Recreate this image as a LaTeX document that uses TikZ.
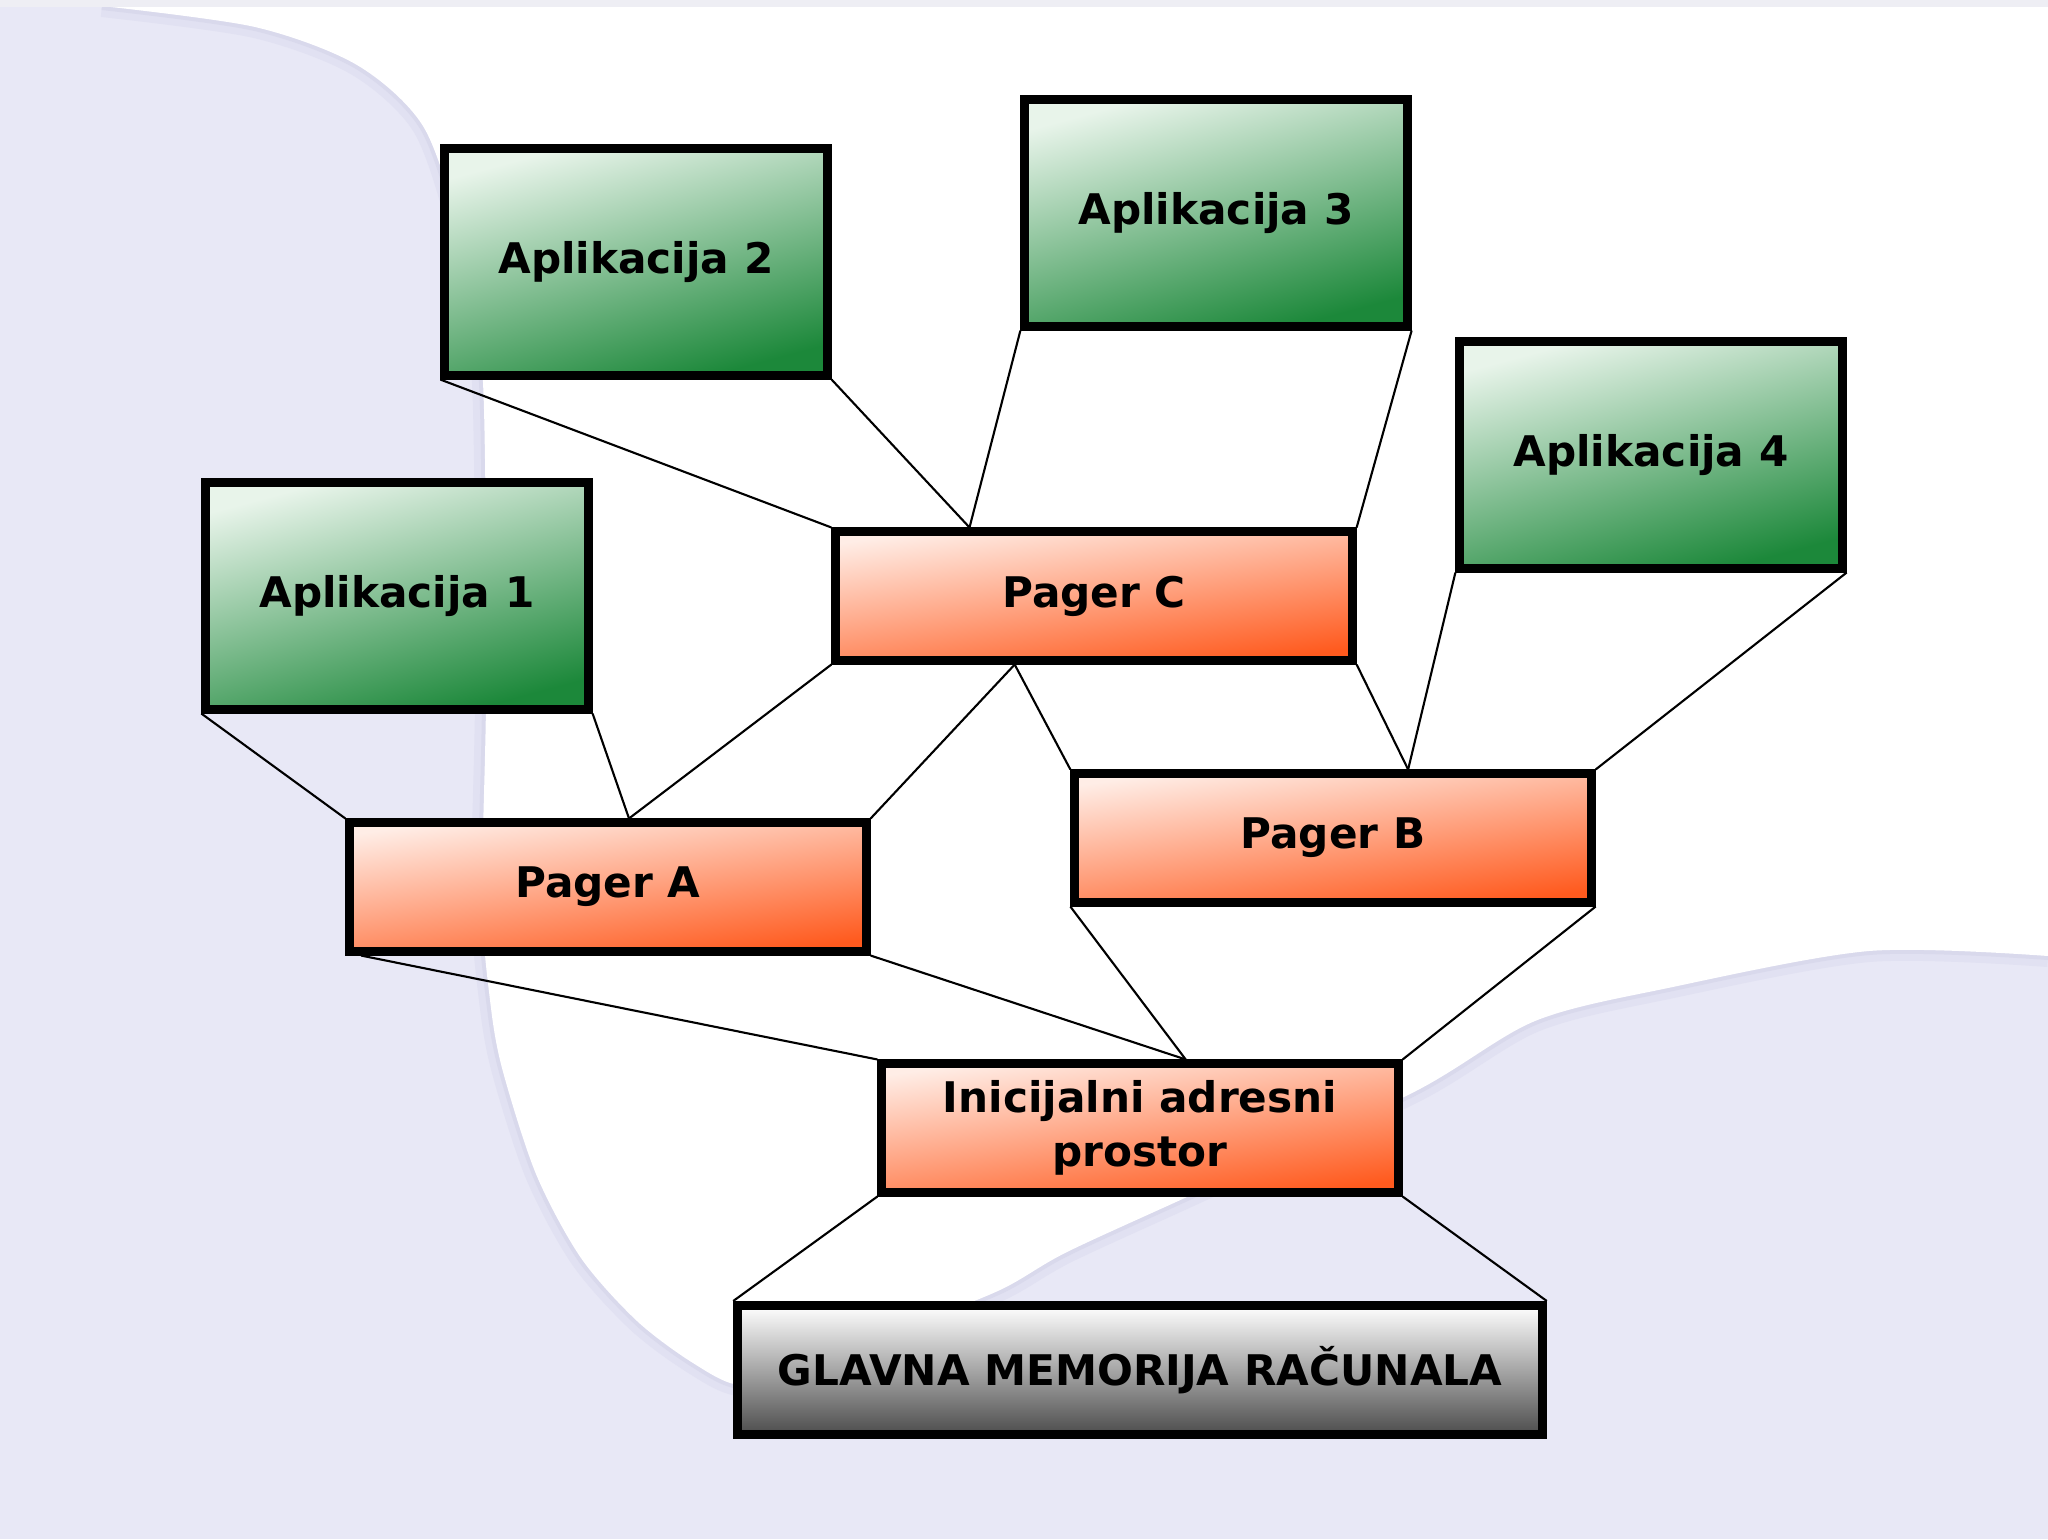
\documentclass[tikz,border=0pt]{standalone}
\usepackage{fontspec}
\setmainfont{DejaVu Sans}
\usetikzlibrary{positioning,calc}

\definecolor{lavender}{HTML}{E8E8F6}
\definecolor{shadowSoft}{HTML}{E1E1F2}
\definecolor{shadowDark}{HTML}{D9D9EC}
\definecolor{topstrip}{HTML}{EEEEF4}
\definecolor{appTop}{HTML}{E8F4EA}
\definecolor{appMid}{HTML}{7FBE8E}
\definecolor{appBot}{HTML}{1C883A}
\definecolor{pagTop}{HTML}{FFEDE6}
\definecolor{pagMid}{HTML}{FF9C7E}
\definecolor{pagBot}{HTML}{FF5A1E}

\begin{document}
\begin{tikzpicture}[
    x=0.01cm, y=-0.01cm,
    box/.style={rectangle, draw=black, line width=2.56pt, inner sep=0pt, align=center,
        font=\fontsize{12}{15.4}\selectfont\bfseries},
    app/.style={box, minimum width=3.82cm, minimum height=2.26cm,
        top color=appTop, middle color=appMid, bottom color=appBot, shading angle=15},
    pager/.style={box, minimum width=5.16cm, minimum height=1.28cm,
        top color=pagTop, middle color=pagMid, bottom color=pagBot, shading angle=8},
    mem/.style={box, minimum width=8.04cm, minimum height=1.29cm,
        top color=white, middle color=black!8, bottom color=black!70},
    link/.style={line width=0.6pt}
]
    % background
    \useasboundingbox (0,0) rectangle (2048,1539);
    \fill[lavender] (0,0) rectangle (2048,1539);
    \draw[shadowSoft, line width=0.22cm] plot[smooth] coordinates {(102,6) (255,27) (357,65)
        (423,126) (459,230) (480,344) (485,459) (486,700) (482,900) (490,1000) (502,1068)
        (536,1174) (581,1258) (637,1321) (693,1363) (740,1385) (800,1370) (900,1330)
        (1000,1290) (1067,1252) (1200,1191) (1414,1092) (1535,1021) (1668,988)
        (1869,951) (2048,956)};
    \draw[shadowDark, line width=0.08cm] plot[smooth] coordinates {(102,6) (255,27) (357,65)
        (423,126) (459,230) (480,344) (485,459) (486,700) (482,900) (490,1000) (502,1068)
        (536,1174) (581,1258) (637,1321) (693,1363) (740,1385) (800,1370) (900,1330)
        (1000,1290) (1067,1252) (1200,1191) (1414,1092) (1535,1021) (1668,988)
        (1869,951) (2048,956)};
    \fill[white] plot[smooth] coordinates {(102,6) (255,27) (357,65)
        (423,126) (459,230) (480,344) (485,459) (486,700) (482,900) (490,1000) (502,1068)
        (536,1174) (581,1258) (637,1321) (693,1363) (740,1385) (800,1370) (900,1330)
        (1000,1290) (1067,1252) (1200,1191) (1414,1092) (1535,1021) (1668,988)
        (1869,951) (2048,956)} -- (2048,6) -- cycle;
    \fill[topstrip] (0,0) rectangle (2048,7);

    % applications
    \node[app] (app1) at (397,596) {Aplikacija 1};
    \node[app] (app2) at (636,262) {Aplikacija 2};
    \node[app] (app3) at (1216,213) {Aplikacija 3};
    \node[app] (app4) at (1651,455) {Aplikacija 4};

    % pagers
    \node[pager] (pagerC) at (1094,596) {Pager C};
    \node[pager] (pagerA) at (608,887) {Pager A};
    \node[pager] (pagerB) at (1333,838) {Pager B};
    \node[pager] (init) at (1140,1128) {Inicijalni adresni\\prostor};

    % memory
    \node[mem] (mem) at (1140,1370) {GLAVNA MEMORIJA RAČUNALA};

    % attach points
    \coordinate (cTop) at ($(pagerC.north west)!0.263!(pagerC.north east)$);
    \coordinate (cBot) at ($(pagerC.south west)!0.349!(pagerC.south east)$);
    \coordinate (aTop) at ($(pagerA.north west)!0.54!(pagerA.north east)$);
    \coordinate (aBot) at ($(pagerA.south west)!0.03!(pagerA.south east)$);
    \coordinate (bTop) at ($(pagerB.north west)!0.643!(pagerB.north east)$);
    \coordinate (iTop) at ($(init.north west)!0.587!(init.north east)$);

    \draw[link] (app2.south west) -- (pagerC.north west);
    \draw[link] (app2.south east) -- (cTop);
    \draw[link] (app3.south west) -- (cTop);
    \draw[link] (app3.south east) -- (pagerC.north east);
    \draw[link] (app1.south west) -- (pagerA.north west);
    \draw[link] (app1.south east) -- (aTop);
    \draw[link] (pagerC.south west) -- (aTop);
    \draw[link] (cBot) -- (pagerA.north east);
    \draw[link] (cBot) -- (pagerB.north west);
    \draw[link] (pagerC.south east) -- (bTop);
    \draw[link] (app4.south west) -- (bTop);
    \draw[link] (app4.south east) -- (pagerB.north east);
    \draw[link] (aBot) -- (init.north west);
    \draw[link] (pagerA.south east) -- (iTop);
    \draw[link] (pagerB.south west) -- (iTop);
    \draw[link] (pagerB.south east) -- (init.north east);
    \draw[link] (init.south west) -- (mem.north west);
    \draw[link] (init.south east) -- (mem.north east);
\end{tikzpicture}
\end{document}
